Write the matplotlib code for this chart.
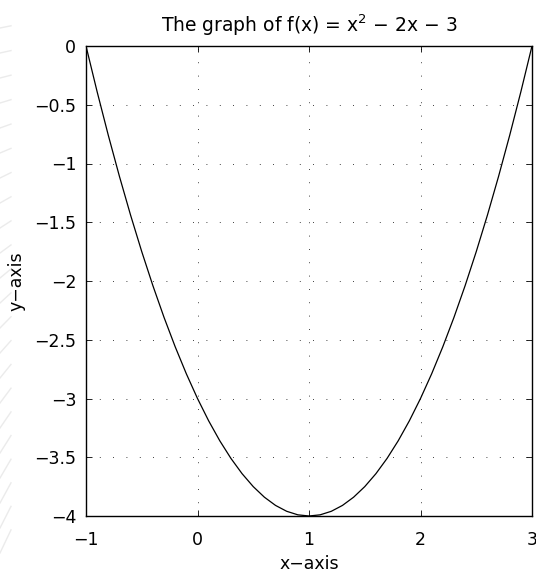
import matplotlib
matplotlib.use("Agg")
import matplotlib.pyplot as plt
from matplotlib.lines import Line2D
import numpy as np

plt.rcParams['font.family'] = ['DejaVu Sans']
plt.rcParams['mathtext.fontset'] = 'dejavusans'
plt.rcParams['mathtext.default'] = 'regular'

# sampled points of f(x) = x^2 - 2x - 3 on [-1, 3]
x_vals = [-1.0, -0.9, -0.8, -0.7, -0.6, -0.5, -0.4, -0.3, -0.2, -0.1,
          0.0, 0.1, 0.2, 0.3, 0.4, 0.5, 0.6, 0.7, 0.8, 0.9,
          1.0, 1.1, 1.2, 1.3, 1.4, 1.5, 1.6, 1.7, 1.8, 1.9,
          2.0, 2.1, 2.2, 2.3, 2.4, 2.5, 2.6, 2.7, 2.8, 2.9, 3.0]
y_vals = [0.0, -0.39, -0.76, -1.11, -1.44, -1.75, -2.04, -2.31, -2.56, -2.79,
          -3.0, -3.19, -3.36, -3.51, -3.64, -3.75, -3.84, -3.91, -3.96, -3.99,
          -4.0, -3.99, -3.96, -3.91, -3.84, -3.75, -3.64, -3.51, -3.36, -3.19,
          -3.0, -2.79, -2.56, -2.31, -2.04, -1.75, -1.44, -1.11, -0.76, -0.39, 0.0]

x_ticks = [-1, 0, 1, 2, 3]
x_ticklabels = ['\u22121', '0', '1', '2', '3']
y_ticks = [-4, -3.5, -3, -2.5, -2, -1.5, -1, -0.5, 0]
y_ticklabels = ['\u22124', '\u22123.5', '\u22123', '\u22122.5', '\u22122',
                '\u22121.5', '\u22121', '\u22120.5', '0']

W, H = 536, 574
fig = plt.figure(figsize=(W / 100, H / 100), dpi=100)
fig.patch.set_facecolor('white')

# faint strokes along the left page edge
for i, yp in enumerate(np.arange(28, 575, 25)):
    frac = i / 21.0
    slope = 0.2 + 1.9 * frac ** 1.5
    dx = 11
    fig.add_artist(Line2D([0 / W, dx / W],
                          [1 - yp / H, 1 - (yp - slope * dx) / H],
                          transform=fig.transFigure, color='#ebebeb', lw=1.0))

left, right, top, bottom = 86, 532, 46, 516
ax = fig.add_axes([left / W, 1 - bottom / H, (right - left) / W, (bottom - top) / H])

ax.plot(x_vals, y_vals, color='black', lw=0.9)

ax.set_xlim(-1, 3)
ax.set_ylim(-4, 0)
ax.set_xticks(x_ticks)
ax.set_xticklabels(x_ticklabels)
ax.set_yticks(y_ticks)
ax.set_yticklabels(y_ticklabels)

ax.tick_params(direction='in', length=4, width=0.6, top=True, right=True,
               labelsize=12.5, colors='black')
ax.tick_params(axis='x', pad=10.5)
ax.tick_params(axis='y', pad=7)
for s in ax.spines.values():
    s.set_linewidth(1.0)
    s.set_color('black')

ax.grid(True, color='black', lw=0.6, linestyle=(0, (1, 15)))

ax.set_title('The graph of f(x) = x$^{2}$ \u2212 2x \u2212 3', fontsize=13.5, pad=10)
ax.set_xlabel('x\u2212axis', fontsize=12.5, labelpad=4.5)
ax.set_ylabel('y\u2212axis', fontsize=12.5, labelpad=6)

fig.savefig('out.png', dpi=100)
